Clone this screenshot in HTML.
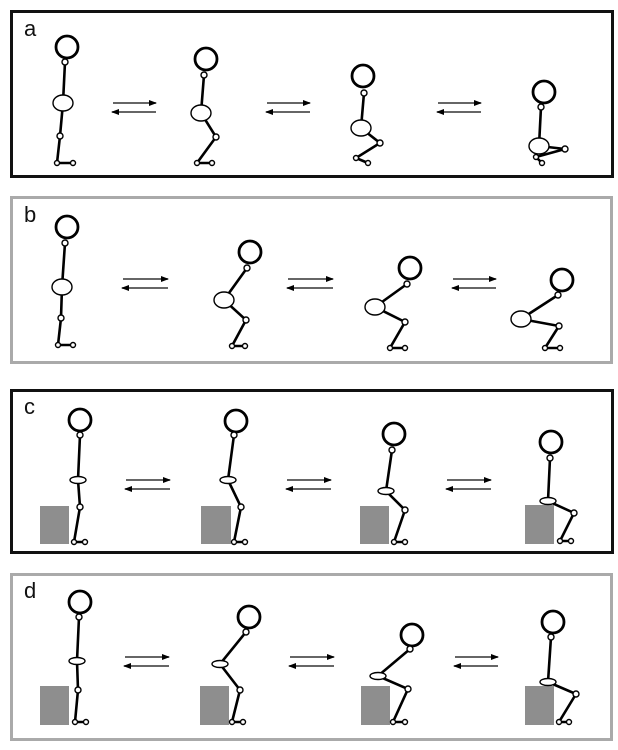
<!DOCTYPE html>
<html><head><meta charset="utf-8"><style>
html,body{margin:0;padding:0;background:#fff;}
svg{display:block;}
text{font-family:"Liberation Sans",sans-serif;font-size:22px;fill:#111;}
.b{stroke:#000;stroke-width:2.6;fill:none;}
.h{stroke:#000;stroke-width:2.8;fill:#fff;}
.j{stroke:#000;stroke-width:1.4;fill:#fff;}
.ar{stroke:#333;stroke-width:1.4;}
.bx{fill:#8e8e8e;}
</style></head><body>
<svg width="618" height="750" viewBox="0 0 618 750">
<defs>
<marker id="m" markerWidth="8" markerHeight="6" refX="7" refY="3" orient="auto" markerUnits="userSpaceOnUse"><path d="M0,0 L8,3 L0,6z" fill="#000"/></marker>
</defs>
<rect x="11.5" y="11.5" width="601" height="165" fill="none" stroke="#111" stroke-width="3"/>
<rect x="11.5" y="197.5" width="600" height="165" fill="none" stroke="#aaa" stroke-width="3"/>
<rect x="11.5" y="390.5" width="601" height="162" fill="none" stroke="#111" stroke-width="3"/>
<rect x="11.5" y="574.5" width="600" height="165" fill="none" stroke="#aaa" stroke-width="3"/>
<text x="24" y="36">a</text>
<text x="24" y="222">b</text>
<text x="24" y="414">c</text>
<text x="24" y="598">d</text>

<g class="ar">
<line x1="113" y1="103" x2="156" y2="103" marker-end="url(#m)"/><line x1="156" y1="112" x2="112" y2="112" marker-end="url(#m)"/>
<line x1="267" y1="103" x2="310" y2="103" marker-end="url(#m)"/><line x1="310" y1="112" x2="266" y2="112" marker-end="url(#m)"/>
<line x1="438" y1="103" x2="481" y2="103" marker-end="url(#m)"/><line x1="481" y1="112" x2="437" y2="112" marker-end="url(#m)"/>

<line x1="123" y1="279" x2="168" y2="279" marker-end="url(#m)"/><line x1="168" y1="288" x2="122" y2="288" marker-end="url(#m)"/>
<line x1="288" y1="279" x2="333" y2="279" marker-end="url(#m)"/><line x1="333" y1="288" x2="287" y2="288" marker-end="url(#m)"/>
<line x1="453" y1="279" x2="496" y2="279" marker-end="url(#m)"/><line x1="496" y1="288" x2="452" y2="288" marker-end="url(#m)"/>

<line x1="126" y1="480" x2="170" y2="480" marker-end="url(#m)"/><line x1="170" y1="489" x2="125" y2="489" marker-end="url(#m)"/>
<line x1="287" y1="480" x2="331" y2="480" marker-end="url(#m)"/><line x1="331" y1="489" x2="286" y2="489" marker-end="url(#m)"/>
<line x1="447" y1="480" x2="491" y2="480" marker-end="url(#m)"/><line x1="491" y1="489" x2="446" y2="489" marker-end="url(#m)"/>

<line x1="125" y1="657" x2="169" y2="657" marker-end="url(#m)"/><line x1="169" y1="666" x2="124" y2="666" marker-end="url(#m)"/>
<line x1="290" y1="657" x2="334" y2="657" marker-end="url(#m)"/><line x1="334" y1="666" x2="289" y2="666" marker-end="url(#m)"/>
<line x1="455" y1="657" x2="498" y2="657" marker-end="url(#m)"/><line x1="498" y1="666" x2="454" y2="666" marker-end="url(#m)"/>
</g>

<rect class="bx" x="40" y="506" width="29" height="38"/>
<rect class="bx" x="201" y="506" width="30" height="38"/>
<rect class="bx" x="360" y="506" width="29" height="38"/>
<rect class="bx" x="525" y="505" width="29" height="39"/>
<rect class="bx" x="40" y="686" width="29" height="39"/>
<rect class="bx" x="200" y="686" width="29" height="39"/>
<rect class="bx" x="361" y="686" width="29" height="39"/>
<rect class="bx" x="525" y="686" width="29" height="39"/>

<g>
<polyline class="b" points="65,62 63,103 60,136 57,163 73,163"/>
<circle class="h" cx="67" cy="47" r="11"/><circle class="j" cx="65" cy="62" r="3"/>
<ellipse class="j" cx="63" cy="103" rx="10" ry="8"/><circle class="j" cx="60" cy="136" r="3"/>
<circle class="j" cx="57" cy="163" r="2.5"/><circle class="j" cx="73" cy="163" r="2.5"/>

<polyline class="b" points="204,75 201,113 216,137 197,163 212,163"/>
<circle class="h" cx="206" cy="59" r="11"/><circle class="j" cx="204" cy="75" r="3"/>
<ellipse class="j" cx="201" cy="113" rx="10" ry="8"/><circle class="j" cx="216" cy="137" r="3"/>
<circle class="j" cx="197" cy="163" r="2.5"/><circle class="j" cx="212" cy="163" r="2.5"/>

<polyline class="b" points="364,93 361,128 380,143 356,158 368,163"/>
<circle class="h" cx="363" cy="76" r="11"/><circle class="j" cx="364" cy="93" r="3"/>
<ellipse class="j" cx="361" cy="128" rx="10" ry="8"/><circle class="j" cx="380" cy="143" r="3"/>
<circle class="j" cx="356" cy="158" r="2.5"/><circle class="j" cx="368" cy="163" r="2.5"/>

<polyline class="b" points="541,107 539,146 565,149 536,157 542,163"/>
<circle class="h" cx="544" cy="92" r="11"/><circle class="j" cx="541" cy="107" r="3"/>
<ellipse class="j" cx="539" cy="146" rx="10" ry="8"/><circle class="j" cx="565" cy="149" r="3"/>
<circle class="j" cx="536" cy="157" r="2.5"/><circle class="j" cx="542" cy="163" r="2.5"/>
</g>

<g>
<polyline class="b" points="65,243 62,287 61,318 58,345 73,345"/>
<circle class="h" cx="67" cy="227" r="11"/><circle class="j" cx="65" cy="243" r="3"/>
<ellipse class="j" cx="62" cy="287" rx="10" ry="8"/><circle class="j" cx="61" cy="318" r="3"/>
<circle class="j" cx="58" cy="345" r="2.5"/><circle class="j" cx="73" cy="345" r="2.5"/>

<polyline class="b" points="247,268 224,300 246,320 232,346 245,346"/>
<circle class="h" cx="250" cy="252" r="11"/><circle class="j" cx="247" cy="268" r="3"/>
<ellipse class="j" cx="224" cy="300" rx="10" ry="8"/><circle class="j" cx="246" cy="320" r="3"/>
<circle class="j" cx="232" cy="346" r="2.5"/><circle class="j" cx="245" cy="346" r="2.5"/>

<polyline class="b" points="407,284 375,307 405,322 390,348 405,348"/>
<circle class="h" cx="410" cy="268" r="11"/><circle class="j" cx="407" cy="284" r="3"/>
<ellipse class="j" cx="375" cy="307" rx="10" ry="8"/><circle class="j" cx="405" cy="322" r="3"/>
<circle class="j" cx="390" cy="348" r="2.5"/><circle class="j" cx="405" cy="348" r="2.5"/>

<polyline class="b" points="558,295 521,319 559,326 545,348 560,348"/>
<circle class="h" cx="562" cy="280" r="11"/><circle class="j" cx="558" cy="295" r="3"/>
<ellipse class="j" cx="521" cy="319" rx="10" ry="8"/><circle class="j" cx="559" cy="326" r="3"/>
<circle class="j" cx="545" cy="348" r="2.5"/><circle class="j" cx="560" cy="348" r="2.5"/>
</g>

<g>
<polyline class="b" points="80,435 78,480 80,507 74,542 85,542"/>
<circle class="h" cx="80" cy="420" r="11"/><circle class="j" cx="80" cy="435" r="3"/>
<ellipse class="j" cx="78" cy="480" rx="8" ry="3.5"/><circle class="j" cx="80" cy="507" r="3"/>
<circle class="j" cx="74" cy="542" r="2.5"/><circle class="j" cx="85" cy="542" r="2.5"/>

<polyline class="b" points="234,435 228,480 241,507 234,542 245,542"/>
<circle class="h" cx="236" cy="421" r="11"/><circle class="j" cx="234" cy="435" r="3"/>
<ellipse class="j" cx="228" cy="480" rx="8" ry="3.5"/><circle class="j" cx="241" cy="507" r="3"/>
<circle class="j" cx="234" cy="542" r="2.5"/><circle class="j" cx="245" cy="542" r="2.5"/>

<polyline class="b" points="392,450 386,491 405,510 394,542 405,542"/>
<circle class="h" cx="394" cy="434" r="11"/><circle class="j" cx="392" cy="450" r="3"/>
<ellipse class="j" cx="386" cy="491" rx="8" ry="3.5"/><circle class="j" cx="405" cy="510" r="3"/>
<circle class="j" cx="394" cy="542" r="2.5"/><circle class="j" cx="405" cy="542" r="2.5"/>

<polyline class="b" points="550,458 548,501 574,513 560,541 571,541"/>
<circle class="h" cx="551" cy="442" r="11"/><circle class="j" cx="550" cy="458" r="3"/>
<ellipse class="j" cx="548" cy="501" rx="8" ry="3.5"/><circle class="j" cx="574" cy="513" r="3"/>
<circle class="j" cx="560" cy="541" r="2.5"/><circle class="j" cx="571" cy="541" r="2.5"/>
</g>

<g>
<polyline class="b" points="79,617 77,661 78,690 75,722 86,722"/>
<circle class="h" cx="80" cy="602" r="11"/><circle class="j" cx="79" cy="617" r="3"/>
<ellipse class="j" cx="77" cy="661" rx="8" ry="3.5"/><circle class="j" cx="78" cy="690" r="3"/>
<circle class="j" cx="75" cy="722" r="2.5"/><circle class="j" cx="86" cy="722" r="2.5"/>

<polyline class="b" points="246,632 220,664 240,690 232,722 243,722"/>
<circle class="h" cx="249" cy="617" r="11"/><circle class="j" cx="246" cy="632" r="3"/>
<ellipse class="j" cx="220" cy="664" rx="8" ry="3.5"/><circle class="j" cx="240" cy="690" r="3"/>
<circle class="j" cx="232" cy="722" r="2.5"/><circle class="j" cx="243" cy="722" r="2.5"/>

<polyline class="b" points="410,649 378,676 408,689 393,722 405,722"/>
<circle class="h" cx="412" cy="635" r="11"/><circle class="j" cx="410" cy="649" r="3"/>
<ellipse class="j" cx="378" cy="676" rx="8" ry="3.5"/><circle class="j" cx="408" cy="689" r="3"/>
<circle class="j" cx="393" cy="722" r="2.5"/><circle class="j" cx="405" cy="722" r="2.5"/>

<polyline class="b" points="551,637 548,682 576,694 559,722 569,722"/>
<circle class="h" cx="553" cy="622" r="11"/><circle class="j" cx="551" cy="637" r="3"/>
<ellipse class="j" cx="548" cy="682" rx="8" ry="3.5"/><circle class="j" cx="576" cy="694" r="3"/>
<circle class="j" cx="559" cy="722" r="2.5"/><circle class="j" cx="569" cy="722" r="2.5"/>
</g>
</svg>
</body></html>
